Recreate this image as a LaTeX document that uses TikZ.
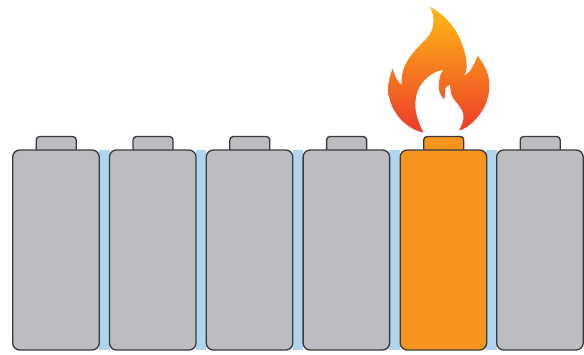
\documentclass[tikz,border=0pt]{standalone}
\usepackage{tikz}
\definecolor{cellgrey}{HTML}{BCBDC0}
\definecolor{hotcell}{HTML}{F7941E}
\definecolor{edgegrey}{HTML}{3A3A3C}
\definecolor{gapblue}{HTML}{B0D5EE}
\definecolor{flametop}{HTML}{FDBB13}
\definecolor{flamemid}{HTML}{F68F32}
\definecolor{flamebot}{HTML}{EE3A2B}
\tikzset{
  cellshape/.style={draw=edgegrey,line width=1.35pt,rounded corners=7pt},
  capshape/.style={draw=edgegrey,line width=1.35pt,rounded corners=3.5pt},
  gapstrip/.style={fill=gapblue,draw=none}
}
\newcommand{\battery}[2]{%
  \draw[capshape,fill=#2] (#1+23.5,150) -- (#1+23.5,136.5) -- (#1+63.5,136.5) -- (#1+63.5,150);
  \draw[cellshape,fill=#2] (#1,150) rectangle (#1+86.5,350);
}
\begin{document}
\begin{tikzpicture}[x=1pt,y=-1pt]
\useasboundingbox (0,0) rectangle (584,354);
\foreach \g in {99,195.8,292.6,389.4,486.2}{
  \fill[gapstrip] (\g,150) rectangle (\g+10.5,350);
}
\foreach \b in {12.7,109.5,206.3,303.1,496.7}{
  \battery{\b}{cellgrey}
}
\battery{400.2}{hotcell}
% flame
\shade[top color=flametop,middle color=flamemid,bottom color=flamebot,draw=none]
  (430,6.7)
  .. controls (447,16) and (457,30) .. (462,44)
  .. controls (466,55) and (469,67) .. (464.3,75.7)
  .. controls (470,73) and (474,65) .. (477.7,56)
  .. controls (484,64) and (489,73) .. (489.3,84)
  .. controls (489.5,96) and (486,106) .. (480,114)
  .. controls (474,122) and (467,128) .. (459.3,130.7)
  .. controls (461,125) and (464,122) .. (463.5,116)
  .. controls (463,108) and (456,103) .. (452.5,97)
  .. controls (450,92) and (451,89) .. (450,85)
  .. controls (445,86) and (444.5,90) .. (445,93)
  .. controls (445,95) and (445,97) .. (444.3,99.3)
  .. controls (440,95) and (438,90) .. (439,84)
  .. controls (439,77) and (441,73) .. (443.3,70)
  .. controls (434,71) and (425,78) .. (420,86)
  .. controls (416,93) and (415,100) .. (415.5,108)
  .. controls (416,117) and (420,125) .. (423.3,132.7)
  .. controls (413,130) and (404,124) .. (398,116)
  .. controls (391,107) and (388,97) .. (388.3,88)
  .. controls (388.5,81) and (390,75) .. (392.7,68.3)
  .. controls (394,75) and (397,81) .. (401.7,85)
  .. controls (401,76) and (403,68) .. (408,60)
  .. controls (413,52) and (420,45) .. (427,38)
  .. controls (435,29) and (435,17) .. (430,6.7) -- cycle;
\end{tikzpicture}
\end{document}
